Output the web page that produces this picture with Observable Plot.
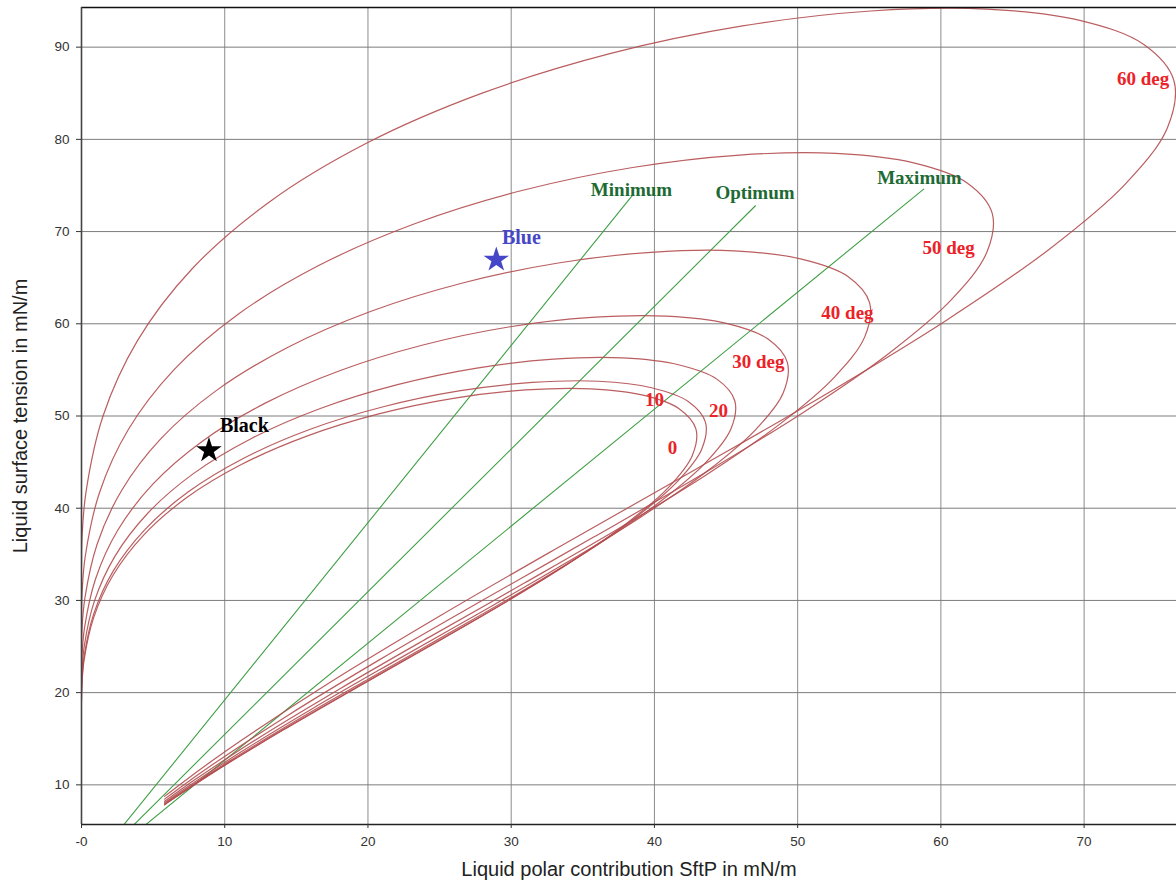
<!DOCTYPE html>
<html>
<head>
<meta charset="utf-8">
<script src="https://cdn.jsdelivr.net/npm/d3@7"></script>
<script src="https://cdn.jsdelivr.net/npm/@observablehq/plot@0.6"></script>
<style>
  html, body { margin: 0; padding: 0; background: #fff; }
  #chart svg { display: block; }
</style>
</head>
<body>
<div id="chart"></div>
<script>
// Wetting envelopes: liquid polar contribution (x) vs liquid surface tension (y), by contact angle
const angleNames = ["0", "10", "20", "30", "40", "50", "60"];

const x0 = [0, 0.03, 0.18, 0.85, 2.19, 4.34, 7.35, 11.19, 15.73, 20.75, 25.96, 31.00, 35.53, 39.20, 41.72, 42.90, 42.64, 40.97, 38.01, 34.00, 29.25, 24.11, 18.93, 14.05, 9.73, 6.18, 5.80];
const y0 = [19.00, 20.79, 23.53, 28.14, 32.71, 37.09, 41.15, 44.76, 47.82, 50.23, 51.92, 52.83, 52.95, 52.26, 50.79, 48.58, 45.70, 42.24, 38.30, 34.00, 29.47, 24.86, 20.29, 15.91, 11.85, 8.24, 7.83];

const x10 = [0, 0.03, 0.18, 0.86, 2.22, 4.41, 7.46, 11.36, 15.97, 21.07, 26.36, 31.48, 36.08, 39.80, 42.36, 43.56, 43.30, 41.60, 38.60, 34.52, 29.70, 24.48, 19.22, 14.27, 9.88, 6.27, 5.80];
const y10 = [19.29, 21.11, 23.89, 28.57, 33.21, 37.66, 41.78, 45.45, 48.56, 51.00, 52.72, 53.64, 53.77, 53.06, 51.57, 49.33, 46.40, 42.89, 38.89, 34.52, 29.92, 25.24, 20.60, 16.16, 12.03, 8.37, 7.85];

const x20 = [0, 0.03, 0.19, 0.90, 2.33, 4.61, 7.81, 11.90, 16.72, 22.06, 27.60, 32.96, 37.78, 41.68, 44.36, 45.61, 45.34, 43.56, 40.41, 36.15, 31.10, 25.63, 20.13, 14.94, 10.35, 6.57, 5.80];
const y20 = [20.20, 22.10, 25.02, 29.92, 34.78, 39.43, 43.75, 47.59, 50.84, 53.40, 55.20, 56.17, 56.30, 55.56, 54.00, 51.65, 48.59, 44.91, 40.72, 36.15, 31.33, 26.43, 21.57, 16.92, 12.60, 8.76, 7.93];

const x30 = [0, 0.03, 0.21, 0.98, 2.52, 4.98, 8.44, 12.86, 18.07, 23.84, 29.82, 35.61, 40.82, 45.03, 47.93, 49.28, 48.99, 47.07, 43.67, 39.06, 33.60, 27.70, 21.75, 16.14, 11.18, 7.10, 6.40, 5.80];
const y30 = [21.83, 23.88, 27.03, 32.33, 37.58, 42.61, 47.27, 51.42, 54.94, 57.70, 59.65, 60.69, 60.83, 60.04, 58.35, 55.81, 52.50, 48.53, 44.00, 39.06, 33.86, 28.56, 23.31, 18.28, 13.61, 9.47, 8.71, 8.05];

const x40 = [0, 0.03, 0.23, 1.09, 2.81, 5.56, 9.43, 14.35, 20.17, 26.61, 33.29, 39.76, 45.57, 50.27, 53.51, 55.02, 54.69, 52.54, 48.75, 43.61, 37.51, 30.92, 24.28, 18.02, 12.48, 7.93, 7.14, 6.41, 5.80];
const y40 = [24.37, 26.66, 30.18, 36.09, 41.95, 47.57, 52.78, 57.40, 61.33, 64.42, 66.59, 67.75, 67.91, 67.02, 65.14, 62.30, 58.61, 54.17, 49.12, 43.61, 37.80, 31.88, 26.02, 20.40, 15.20, 10.57, 9.72, 8.91, 8.21];

const x50 = [0, 0.04, 0.27, 1.26, 3.25, 6.43, 10.89, 16.59, 23.31, 30.75, 38.48, 45.95, 52.66, 58.10, 61.83, 63.58, 63.20, 60.72, 56.34, 50.39, 43.35, 35.73, 28.06, 20.82, 14.43, 9.16, 8.25, 7.40, 5.80];
const y50 = [28.16, 30.81, 34.87, 41.71, 48.48, 54.97, 60.99, 66.34, 70.87, 74.45, 76.95, 78.30, 78.48, 77.45, 75.28, 72.00, 67.73, 62.60, 56.76, 50.39, 43.68, 36.84, 30.07, 23.58, 17.56, 12.21, 11.23, 10.29, 8.45];

const x60 = [0, 0.04, 0.32, 1.51, 3.90, 7.71, 13.07, 19.89, 27.97, 36.89, 46.15, 55.11, 63.17, 69.69, 74.17, 76.27, 75.81, 72.84, 67.57, 60.45, 52.00, 42.86, 33.65, 24.98, 17.31, 10.99, 8.88, 7.02, 5.80];
const y60 = [33.78, 36.96, 41.83, 50.03, 58.15, 65.94, 73.16, 79.57, 85.01, 89.30, 92.30, 93.92, 94.13, 92.91, 90.29, 86.37, 81.24, 75.09, 68.09, 60.45, 52.39, 44.20, 36.07, 28.28, 21.07, 14.65, 12.34, 10.21, 8.75];

// Envelope labels
const envLabelText = ["0", "10", "20", "30 deg", "40 deg", "50 deg", "60 deg"];
const envLabelX = [41.26, 40.01, 44.47, 47.26, 53.48, 60.54, 74.12];
const envLabelY = [46.58, 51.79, 50.60, 55.91, 61.23, 68.22, 86.55];

// Polarity lines (Minimum / Optimum / Maximum)
const polNames = ["Minimum", "Optimum", "Maximum"];
const polX1 = [2.97, 3.68, 4.50];
const polY1 = [5.7, 5.7, 5.7];
const polX2 = [38.45, 47.05, 58.80];
const polY2 = [73.90, 72.80, 74.60];
const polLabelX = [38.40, 47.02, 58.50];
const polLabelY = [74.56, 74.19, 75.81];

// Liquids (stars)
const liquidNames = ["Black", "Blue"];
const liquidX = [8.90, 28.96];
const liquidY = [46.26, 66.94];
const liquidColors = ["#000000", "#4646c8"];
const liquidLabelX = [11.37, 30.71];
const liquidLabelY = [48.92, 69.30];

// Axes
const xTicks = [0, 10, 20, 30, 40, 50, 60, 70];
const xTickLabels = ["-0", "10", "20", "30", "40", "50", "60", "70"];
const yTicks = [10, 20, 30, 40, 50, 60, 70, 80, 90];
const xTitle = "Liquid polar contribution SftP in mN/m";
const yTitle = "Liquid surface tension in mN/m";

const curveXs = [x0, x10, x20, x30, x40, x50, x60];
const curveYs = [y0, y10, y20, y30, y40, y50, y60];
const envRows = [];
angleNames.forEach((a, k) => {
  curveXs[k].forEach((x, i) => envRows.push({angle: a, x, y: curveYs[k][i]}));
});
const polRows = [];
polNames.forEach((n, i) => {
  polRows.push({name: n, x: polX1[i], y: polY1[i]});
  polRows.push({name: n, x: polX2[i], y: polY2[i]});
});
const polLabels = polNames.map((n, i) => ({name: n, x: polLabelX[i], y: polLabelY[i]}));
const envLabels = envLabelText.map((t, i) => ({t, x: envLabelX[i], y: envLabelY[i]}));
const liquids = liquidNames.map((n, i) => ({n, x: liquidX[i], y: liquidY[i], c: liquidColors[i], lx: liquidLabelX[i], ly: liquidLabelY[i]}));

const serif = "'Liberation Serif', 'Times New Roman', serif";
const XMIN = 0, XMAX = 76.45, YMIN = 5.7, YMAX = 94.3;

const chart = Plot.plot({
  width: 1176,
  height: 885,
  marginLeft: 81,
  marginRight: 0,
  marginTop: 7,
  marginBottom: 61,
  x: {domain: [XMIN, XMAX]},
  y: {domain: [YMIN, YMAX]},
  style: {fontFamily: "'Liberation Sans', Arial, sans-serif", background: "#fff", color: "#333"},
  marks: [
    Plot.gridX(xTicks, {stroke: "#8c8c8c", strokeOpacity: 1, strokeWidth: 1}),
    Plot.gridY(yTicks, {stroke: "#7c7c7c", strokeOpacity: 1, strokeWidth: 1}),
    Plot.line(polRows, {x: "x", y: "y", z: "name", stroke: "#3f9f45", strokeWidth: 1.1, clip: true}),
    Plot.line(envRows, {x: "x", y: "y", z: "angle", stroke: "#b24c4f", strokeWidth: 1.2, strokeOpacity: 0.9, curve: "catmull-rom", clip: true}),
    Plot.ruleY([YMAX], {stroke: "#111", strokeWidth: 1.5}),
    Plot.ruleX([XMIN], {stroke: "#444", strokeWidth: 1.6}),
    Plot.ruleY([YMIN], {stroke: "#222", strokeWidth: 1.6}),
    Plot.axisX(xTicks, {tickFormat: d => xTickLabels[xTicks.indexOf(d)], tickSize: 4, tickPadding: 8, fontSize: 13.5, label: null, stroke: "#333", fill: "#333"}),
    Plot.axisY(yTicks, {tickSize: 5, tickPadding: 7, fontSize: 13.5, label: null, stroke: "#333", fill: "#333"}),
    Plot.text(envLabels, {x: "x", y: "y", text: "t", fill: "#ec2229", fontFamily: serif, fontWeight: "bold", fontSize: 19}),
    Plot.text(polLabels, {x: "x", y: "y", text: "name", fill: "#1e6a34", fontFamily: serif, fontWeight: "bold", fontSize: 19}),
    Plot.dot(liquids, {x: "x", y: "y", symbol: "star", r: 8, fill: "c", stroke: null}),
    Plot.text(liquids, {x: "lx", y: "ly", text: "n", fill: "c", fontFamily: serif, fontWeight: "bold", fontSize: 20}),
    Plot.text([xTitle], {frameAnchor: "bottom", textAnchor: "middle", dy: 51, fontSize: 20, fill: "#222"}),
    Plot.text([yTitle], {frameAnchor: "left", textAnchor: "middle", dx: -61, rotate: -90, fontSize: 20, fill: "#222"})
  ]
});
document.getElementById("chart").appendChild(chart);
</script>
</body>
</html>
